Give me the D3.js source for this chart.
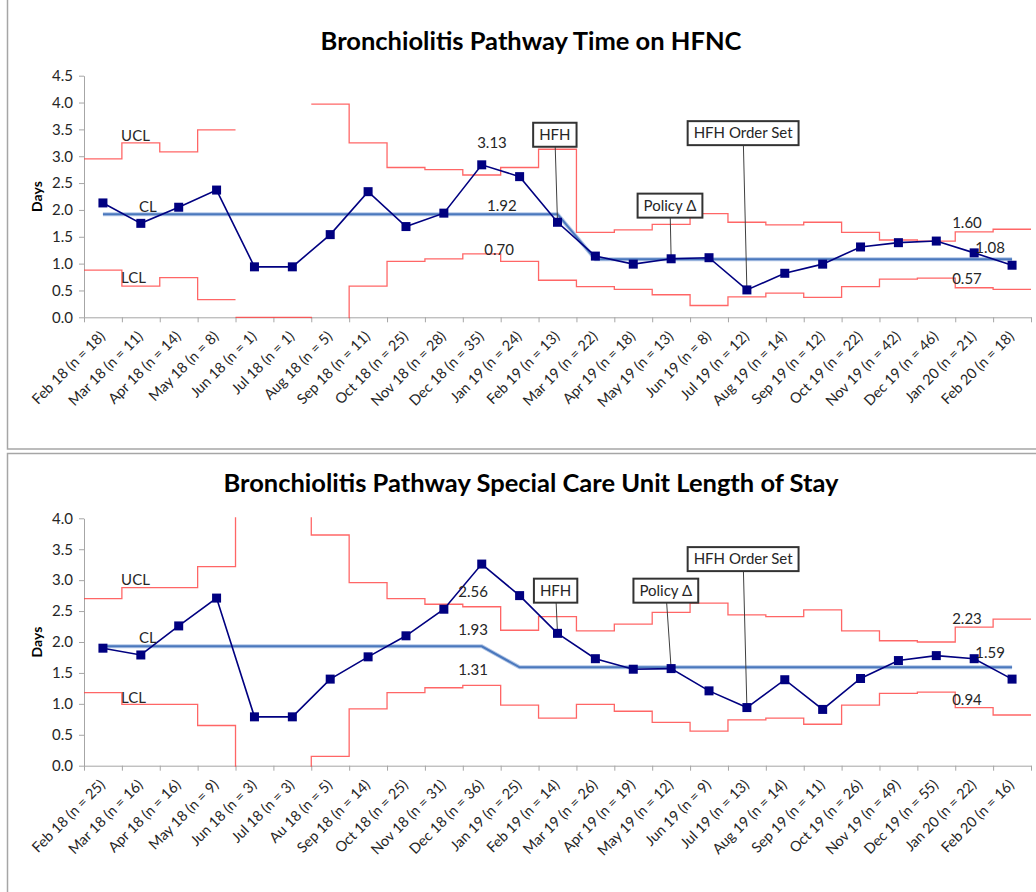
<!DOCTYPE html>
<html>
<head>
<meta charset="utf-8">
<script src="https://cdn.jsdelivr.net/npm/d3@7"></script>
<style>
  body { margin: 0; background: #fff; }
  svg { display: block; }
</style>
</head>
<body>
<div id="chart"></div>
<script>
// months shared by both charts (the LOS chart labels August as "Au 18")
const months = ["Feb 18", "Mar 18", "Apr 18", "May 18", "Jun 18", "Jul 18", "Aug 18", "Sep 18", "Oct 18",
  "Nov 18", "Dec 18", "Jan 19", "Feb 19", "Mar 19", "Apr 19", "May 19", "Jun 19", "Jul 19", "Aug 19",
  "Sep 19", "Oct 19", "Nov 19", "Dec 19", "Jan 20", "Feb 20"];
const losMonths = months.map((m) => (m === "Aug 18" ? "Au 18" : m));

// --- Time on HFNC ---
const hfncN = [18, 11, 14, 8, 1, 1, 5, 11, 25, 28, 35, 24, 13, 22, 18, 13, 8, 12, 14, 12, 22, 42, 46, 21, 18];
const hfncDays = [2.13, 1.75, 2.05, 2.37, 0.94, 0.94, 1.54, 2.34, 1.69, 1.94, 2.84, 2.62, 1.77,
  1.14, 0.99, 1.09, 1.11, 0.51, 0.82, 0.99, 1.31, 1.39, 1.42, 1.20, 0.97];
const hfncCL = [1.92, 1.92, 1.92, 1.92, 1.92, 1.92, 1.92, 1.92, 1.92, 1.92, 1.92, 1.92, 1.92,
  1.08, 1.08, 1.08, 1.08, 1.08, 1.08, 1.08, 1.08, 1.08, 1.08, 1.08, 1.08];
const hfncUCL = [2.95, 3.25, 3.08, 3.49, null, null, 3.97, 3.25, 2.79, 2.75, 2.65, 2.79, 3.13,
  1.58, 1.63, 1.73, 1.93, 1.77, 1.72, 1.77, 1.58, 1.44, 1.42, 1.59, 1.64];
const hfncLCL = [0.88, 0.58, 0.74, 0.33, 0, 0, -0.4, 0.58, 1.04, 1.09, 1.18, 1.04, 0.69,
  0.57, 0.52, 0.42, 0.22, 0.38, 0.45, 0.37, 0.57, 0.71, 0.73, 0.55, 0.52];
const hfncLCLBreaks = ["Jun 18"];
const hfncYTicks = [0, 0.5, 1, 1.5, 2, 2.5, 3, 3.5, 4, 4.5];
const hfncLabels = [
  {text: "UCL", at: 0.98, value: 3.38, anchor: "start"},
  {text: "CL", at: 1.45, value: 2.05, anchor: "start"},
  {text: "LCL", at: 0.98, value: 0.73, anchor: "start"},
  {text: "3.13", at: 10.77, value: 3.25, anchor: "middle"},
  {text: "1.92", at: 11.03, value: 2.08, anchor: "middle"},
  {text: "0.70", at: 10.96, value: 1.25, anchor: "middle"},
  {text: "1.60", at: 23.31, value: 1.76, anchor: "middle"},
  {text: "1.08", at: 23.92, value: 1.29, anchor: "middle"},
  {text: "0.57", at: 23.31, value: 0.71, anchor: "middle"}
];
const hfncNotes = [
  {text: "HFH", month: "Feb 19", at: 12.43, value: 3.40},
  {text: "Policy \u0394", month: "May 19", at: 15.47, value: 2.08},
  {text: "HFH Order Set", month: "Jul 19", at: 17.4, value: 3.43}
];

// --- Special Care Unit length of stay ---
const losN = [25, 16, 16, 9, 3, 3, 5, 14, 25, 31, 36, 25, 14, 26, 19, 12, 9, 13, 14, 11, 26, 49, 55, 22, 16];
const losDays = [1.90, 1.79, 2.26, 2.71, 0.79, 0.79, 1.40, 1.76, 2.10, 2.53, 3.26, 2.75, 2.14,
  1.73, 1.56, 1.57, 1.21, 0.94, 1.39, 0.91, 1.41, 1.70, 1.78, 1.73, 1.40];
const losCL = [1.93, 1.93, 1.93, 1.93, 1.93, 1.93, 1.93, 1.93, 1.93, 1.93, 1.93,
  1.59, 1.59, 1.59, 1.59, 1.59, 1.59, 1.59, 1.59, 1.59, 1.59, 1.59, 1.59, 1.59, 1.59];
const losUCL = [2.70, 2.88, 2.88, 3.22, 5.0, 5.0, 3.73, 2.96, 2.70, 2.61, 2.57, 2.19, 2.41,
  2.18, 2.29, 2.48, 2.63, 2.44, 2.41, 2.52, 2.18, 2.02, 2.00, 2.24, 2.37];
const losLCL = [1.18, 0.99, 0.99, 0.65, -0.5, -0.5, 0.15, 0.92, 1.18, 1.26, 1.30, 0.98, 0.77,
  0.99, 0.88, 0.70, 0.56, 0.74, 0.77, 0.67, 0.98, 1.17, 1.19, 0.94, 0.82];
const losYTicks = [0, 0.5, 1, 1.5, 2, 2.5, 3, 3.5, 4];
const losLabels = [
  {text: "UCL", at: 0.98, value: 3.00, anchor: "start"},
  {text: "CL", at: 1.45, value: 2.07, anchor: "start"},
  {text: "LCL", at: 0.98, value: 1.10, anchor: "start"},
  {text: "2.56", at: 10.27, value: 2.81, anchor: "middle"},
  {text: "1.93", at: 10.27, value: 2.19, anchor: "middle"},
  {text: "1.31", at: 10.27, value: 1.55, anchor: "middle"},
  {text: "2.23", at: 23.31, value: 2.37, anchor: "middle"},
  {text: "1.59", at: 23.92, value: 1.83, anchor: "middle"},
  {text: "0.94", at: 23.31, value: 1.07, anchor: "middle"}
];
const losNotes = [
  {text: "HFH", month: "Feb 19", at: 12.45, value: 2.83},
  {text: "Policy \u0394", month: "May 19", at: 15.36, value: 2.83},
  {text: "HFH Order Set", month: "Jul 19", at: 17.4, value: 3.34}
];

const FONT = "Lato, 'Open Sans', sans-serif";
const TEXT = "#262626";
const AXIS = "#a6a6a6";

const svg = d3.select("#chart").append("svg").attr("width", 1036).attr("height", 892);

drawPanel({
  id: "hfnc", title: "Bronchiolitis Pathway Time on HFNC", frame: [-5, 449], titleY: 41,
  top: 75.7, bottom: 317.3, ticks: hfncYTicks, labels: months, n: hfncN,
  days: hfncDays, cl: hfncCL, ucl: hfncUCL, lcl: hfncLCL, lclBreaks: hfncLCLBreaks,
  text: hfncLabels, notes: hfncNotes
});

drawPanel({
  id: "los", title: "Bronchiolitis Pathway Special Care Unit Length of Stay", frame: [453.5, 900], titleY: 483,
  top: 518.3, bottom: 765.7, ticks: losYTicks, labels: losMonths, n: losN,
  days: losDays, cl: losCL, ucl: losUCL, lcl: losLCL, lclBreaks: [],
  text: losLabels, notes: losNotes
});

function drawPanel(p) {
  const g = svg.append("g");
  const left = 84, right = 1031;

  g.append("rect")
    .attr("x", 7.5).attr("y", p.frame[0])
    .attr("width", 1040).attr("height", p.frame[1] - p.frame[0])
    .attr("fill", "#fff").attr("stroke", AXIS).attr("stroke-width", 1.5);

  const x = d3.scaleBand().domain(months).range([left, right]);
  const xi = d3.scaleLinear().domain([0, months.length]).range([left, right]);
  const y = d3.scaleLinear().domain([0, d3.max(p.ticks)]).range([p.bottom, p.top]);
  const cx = (m) => x(m) + x.bandwidth() / 2;

  g.append("text")
    .attr("x", 531).attr("y", p.titleY).attr("dy", "0.35em")
    .attr("text-anchor", "middle")
    .attr("font-family", FONT).attr("font-weight", 700).attr("font-size", 25.5)
    .attr("fill", "#000").text(p.title);

  // axes
  g.append("g")
    .attr("transform", `translate(${left},0)`)
    .call(d3.axisLeft(y).tickValues(p.ticks).tickFormat(d3.format(".1f")).tickSize(5).tickSizeOuter(0).tickPadding(6))
    .call((a) => a.selectAll("line,path").attr("stroke", AXIS))
    .call((a) => a.selectAll("text").attr("font-family", FONT).attr("font-size", 15).attr("fill", TEXT));

  g.append("g")
    .attr("transform", `translate(0,${p.bottom})`)
    .call(d3.axisBottom(xi).tickValues(d3.range(months.length + 1)).tickFormat("").tickSize(5).tickSizeOuter(0))
    .call((a) => a.selectAll("line,path").attr("stroke", AXIS));

  g.append("g")
    .selectAll("text")
    .data(months)
    .join("text")
    .attr("transform", (m) => `translate(${cx(m) + 3},${p.bottom + 20}) rotate(-45)`)
    .attr("text-anchor", "end")
    .attr("font-family", FONT).attr("font-size", 14.5).attr("fill", TEXT)
    .text((m, i) => `${p.labels[i]} (n = ${p.n[i]})`);

  g.append("text")
    .attr("transform", `translate(37,${(p.top + p.bottom) / 2}) rotate(-90)`)
    .attr("text-anchor", "middle").attr("dy", "0.35em")
    .attr("font-family", FONT).attr("font-weight", 700).attr("font-size", 14)
    .attr("fill", "#000").text("Days");

  // control limits as steps across each month, clipped to the plot area
  g.append("clipPath").attr("id", `clip-${p.id}`)
    .append("rect")
    .attr("x", left).attr("y", p.top - 1)
    .attr("width", right - left).attr("height", p.bottom - p.top + 2);

  const step = d3.line().defined((d) => d.v != null).x((d) => d.x).y((d) => y(d.v));
  for (const [values, breaks] of [[p.ucl, []], [p.lcl, p.lclBreaks]]) {
    const pts = [];
    months.forEach((m, i) => {
      if (breaks.includes(m)) pts.push({x: x(m), v: null});
      pts.push({x: x(m), v: values[i]}, {x: x(m) + x.bandwidth(), v: values[i]});
    });
    g.append("path")
      .datum(pts)
      .attr("clip-path", `url(#clip-${p.id})`)
      .attr("fill", "none")
      .attr("stroke", "#ff4040").attr("stroke-opacity", 0.8)
      .attr("stroke-width", 1.3)
      .attr("d", step);
  }

  // centre line
  const centre = d3.line().x((d, i) => cx(months[i])).y((d) => y(d));
  g.append("path").datum(p.cl)
    .attr("fill", "none").attr("stroke", "#b4c7e7").attr("stroke-width", 4).attr("d", centre);
  g.append("path").datum(p.cl)
    .attr("fill", "none").attr("stroke", "#4a78bd").attr("stroke-width", 2).attr("d", centre);

  // leader lines for the notes
  for (const n of p.notes) {
    g.append("line")
      .attr("x1", xi(n.at)).attr("y1", y(n.value))
      .attr("x2", cx(n.month)).attr("y2", y(p.days[months.indexOf(n.month)]))
      .attr("stroke", "#404040").attr("stroke-width", 1);
  }

  // data
  const series = d3.line().x((d, i) => cx(months[i])).y((d) => y(d));
  g.append("path").datum(p.days)
    .attr("fill", "none").attr("stroke", "#000080").attr("stroke-width", 1.6).attr("d", series);
  g.append("g")
    .selectAll("rect")
    .data(p.days)
    .join("rect")
    .attr("x", (d, i) => cx(months[i]) - 4.5)
    .attr("y", (d) => y(d) - 4.5)
    .attr("width", 9).attr("height", 9)
    .attr("fill", "#000080");

  // limit value labels
  g.append("g")
    .selectAll("text")
    .data(p.text)
    .join("text")
    .attr("x", (d) => xi(d.at)).attr("y", (d) => y(d.value)).attr("dy", "0.35em")
    .attr("text-anchor", (d) => d.anchor)
    .attr("font-family", FONT).attr("font-size", 15).attr("fill", TEXT)
    .text((d) => d.text);

  // note boxes
  for (const n of p.notes) {
    const box = g.append("g").attr("transform", `translate(${xi(n.at)},${y(n.value)})`);
    const rect = box.append("rect").attr("fill", "#fff").attr("stroke", "#333").attr("stroke-width", 2);
    const t = box.append("text")
      .attr("text-anchor", "middle").attr("dy", "0.35em")
      .attr("font-family", FONT).attr("font-size", 15).attr("fill", TEXT)
      .text(n.text);
    const w = t.node().getComputedTextLength() + 12;
    rect.attr("x", -w / 2).attr("y", -12).attr("width", w).attr("height", 24);
  }
}
</script>
</body>
</html>
